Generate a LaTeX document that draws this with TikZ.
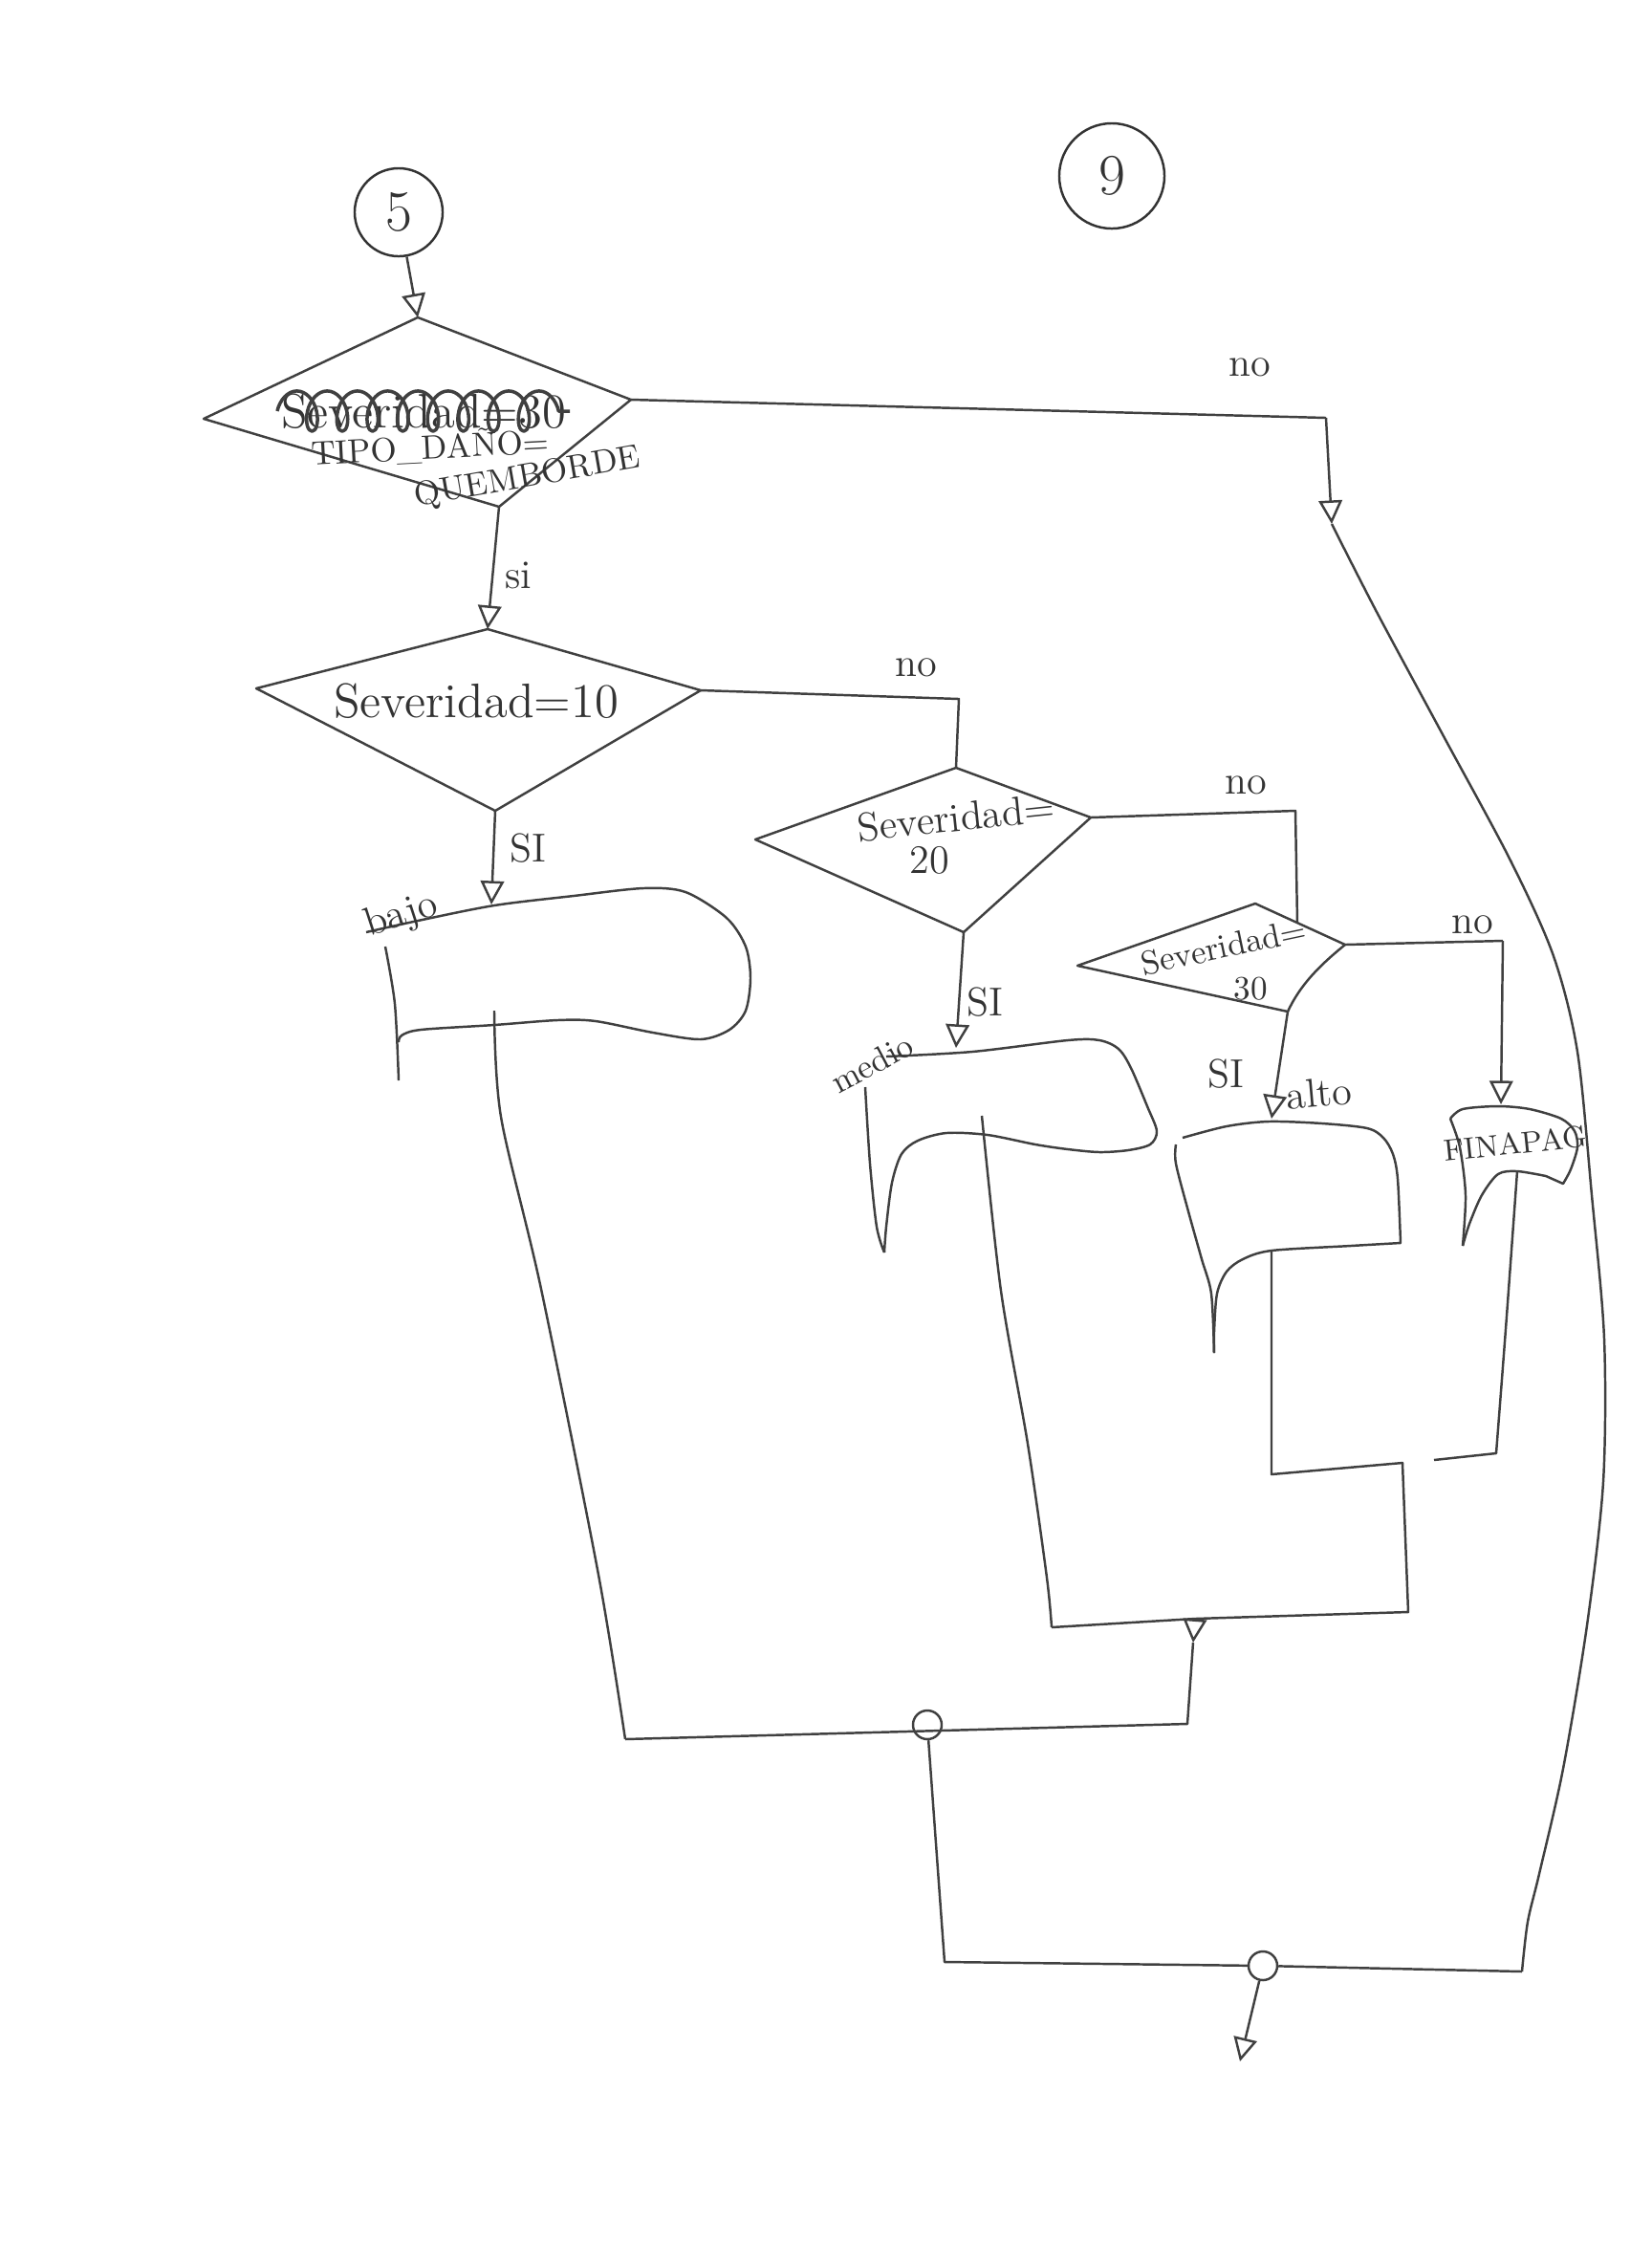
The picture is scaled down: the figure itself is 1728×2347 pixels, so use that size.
\documentclass[tikz,border=0pt]{standalone}
\usepackage{fontspec}
\usepackage{tikz}
\usetikzlibrary{arrows.meta}
\usetikzlibrary{decorations.pathmorphing}
\tikzset{
    pencil/.style={
        line width=0.7pt,
        black!75,
        line join=round
    },
    % flecha abierta dibujada a mano
    pencilarrow/.style={
        line width=0.7pt,
        black!75,
        ->,
        >={Triangle[open, length=7pt, width=7pt]}
    },
    handtext/.style={black!80, inner sep=1pt, font=\large}
}
\begin{document}
\begin{tikzpicture}[x=0.01cm, y=-0.01cm]
\useasboundingbox (0,0) rectangle (1728,2347);

% ===================== conectores de pagina =====================
\node[draw, pencil, circle, minimum size=0.92cm, handtext, font=\LARGE] (c5) at (417,222) {5};
\node[draw, pencil, circle, minimum size=1.1cm, handtext, font=\LARGE] (c9) at (1163,184) {9};

% ===================== rombos =====================
\path
 (437,332) coordinate (d1t)
 (213,438) coordinate (d1l)
 (660,418) coordinate (d1r)
 (522,530) coordinate (d1b)
 (510,658) coordinate (d2t)
 (268,720) coordinate (d2l)
 (733,722) coordinate (d2r)
 (518,848) coordinate (d2b)
 (1000,803) coordinate (d3t)
 (790,878) coordinate (d3l)
 (1141,855) coordinate (d3r)
 (1008,975) coordinate (d3b)
 (1313,945) coordinate (d4t)
 (1127,1010) coordinate (d4l)
 (1407,988) coordinate (d4r)
 (1347,1058) coordinate (d4b)
 (1357,965) coordinate (d4n)
 ;
\draw[pencil] (d1t) -- (d1r) -- (d1b) -- (d1l) -- cycle;
\draw[pencil] (d2t) -- (d2r) -- (d2b) -- (d2l) -- cycle;
\draw[pencil] (d3t) -- (d3r) -- (d3b) -- (d3l) -- cycle;
\draw[pencil] (d4l) -- (d4t) -- (d4r) .. controls (1380,1010) and (1360,1030) .. (d4b) -- cycle;

% textos de los rombos
\node[handtext, font=\Large] (t1a) at (443,430) {Severidad=30};
\draw[pencil, line width=1pt, decorate, decoration={coil, aspect=0.6, segment length=9pt, amplitude=6pt}]
 (t1a.west) -- (t1a.east);
\node[handtext, font=\normalsize, rotate=3] (t1b) at (450,468) {TIPO\_DAÑO=};
\node[handtext, font=\normalsize, rotate=10] (t1c) at (552,500) {QUEMBORDE};
\node[handtext, font=\Large] (t2) at (498,733) {Severidad=10};
\node[handtext, rotate=6] (t3a) at (1000,855) {Severidad=};
\node[handtext] (t3b) at (972,900) {20};
\node[handtext, font=\normalsize, rotate=12] (t4a) at (1280,990) {Severidad=};
\node[handtext, font=\normalsize] (t4b) at (1308,1034) {30};

% ===================== documentos =====================
\path
 (514,946) coordinate (a1)
 (517,1057) coordinate (a2)
 (1000,1096) coordinate (b1)
 (1027,1167) coordinate (b2)
 (1330,1170) coordinate (cc1)
 (1330,1308) coordinate (cc2)
 (1570,1155) coordinate (dd1)
 (1587,1225) coordinate (dd2)
 ;
% bajo
\draw[pencil] plot[smooth] coordinates {(383,975) (437,963) (517,947) (600,937) (673,929) (717,933)
 (760,960) (780,990) (785,1023) (780,1057) (763,1077) (733,1087) (683,1080) (623,1068) (583,1067)
 (517,1072) (440,1077) (420,1083) (417,1090)};
\draw[pencil] plot[smooth] coordinates {(403,990) (413,1050) (417,1130)};
% medio
\draw[pencil] plot[smooth] coordinates {(927,1105) (1017,1100) (1117,1088) (1150,1088) (1170,1097)
 (1183,1117) (1200,1157) (1210,1183) (1203,1197) (1180,1203) (1150,1205) (1117,1202) (1083,1197)
 (1033,1187) (990,1185) (960,1193) (943,1207) (933,1237) (927,1283) (925,1310)};
\draw[pencil] plot[smooth] coordinates {(905,1137) (910,1217) (917,1283) (925,1310)};
% alto
\draw[pencil] plot[smooth] coordinates {(1237,1190) (1283,1178) (1327,1173) (1383,1175) (1430,1180)
 (1447,1190) (1457,1207) (1462,1233) (1465,1300)}
 -- plot[smooth] coordinates {(1465,1300) (1413,1303) (1330,1308) (1300,1317) (1283,1330) (1273,1353)
 (1270,1393) (1270,1415)};
\draw[pencil] plot[smooth] coordinates {(1230,1197) (1230,1217) (1243,1267) (1257,1317) (1267,1353) (1270,1415)};
% fin
\draw[pencil] plot[smooth] coordinates {(1517,1170) (1530,1160) (1567,1157) (1600,1160) (1633,1170)
 (1647,1183) (1650,1200) (1643,1223) (1635,1238)}
 -- plot[smooth] coordinates {(1617,1230) (1587,1225) (1567,1228) (1550,1250) (1537,1280) (1530,1303)};
\draw[pencil] plot[smooth] coordinates {(1517,1170) (1527,1200) (1533,1250) (1530,1303)};
\node[handtext, font=\small, rotate=6] (tfin) at (1585,1196) {FINAPAG};

% etiquetas
\node[handtext, rotate=18] (lbajo) at (420,958) {bajo};
\node[handtext, font=\normalsize, rotate=28] (lmedio) at (912,1112) {medio};
\node[handtext, rotate=5] (lalto) at (1380,1143) {alto};

% ===================== flujo =====================
\path
 (1387,437) coordinate (k1)
 (1393,548) coordinate (n1)
 (1003,731) coordinate (k2)
 (1355,848) coordinate (k3)
 (1572,984) coordinate (k4)
 (1592,2062) coordinate (qr)
 ;
\draw[pencilarrow] (c5) -- (d1t);
\draw[pencilarrow] (d1b) -- (d2t);
\draw[pencilarrow] (d2b) -- (a1);
\draw[pencilarrow] (d3b) -- (b1);
\draw[pencilarrow] (d4b) -- (cc1);
\draw[pencil] (d1r) -- (k1);
\draw[pencilarrow] (k1) -- (n1);
\draw[pencil] (d2r) -- (k2) -- (d3t);
\draw[pencil] (d3r) -- (k3) -- (d4n);
\draw[pencil] (d4r) -- (k4);
\draw[pencilarrow] (k4) -- (dd1);
\draw[pencil] plot[smooth] coordinates {(n1) (1440,640) (1510,770) (1580,900) (1625,1000) (1650,1100)
 (1665,1250) (1678,1400) (1677,1550) (1660,1700) (1635,1850) (1610,1960) (1598,2010) (qr)};

\node[handtext] (no1) at (1307,384) {no};
\node[handtext] (si1) at (542,602) {si};
\node[handtext] (no2) at (958,698) {no};
\node[handtext] (si2) at (552,887) {SI};
\node[handtext] (no3) at (1303,821) {no};
\node[handtext] (si3) at (1030,1048) {SI};
\node[handtext] (no4) at (1540,967) {no};
\node[handtext] (si4) at (1282,1123) {SI};

% ===================== uniones =====================
\path
 (654,1819) coordinate (ab)
 (1100,1702) coordinate (mb)
 (1250,1693) coordinate (jm)
 (1248,1718) coordinate (jm2)
 (1473,1686) coordinate (mr)
 (1467,1530) coordinate (r1)
 (1330,1542) coordinate (cc3)
 (1565,1520) coordinate (dd3)
 (1500,1527) coordinate (dd4)
 (1242,1803) coordinate (mc)
 (988,2052) coordinate (cb)
 (1297,2156) coordinate (fin)
 ;
\draw[pencil] plot[smooth] coordinates {(a2) (524,1168) (566,1348) (626,1647) (ab)};
\draw[pencil] plot[smooth] coordinates {(b2) (1047,1350) (1075,1510) (1095,1650) (mb)};
\draw[pencil] (ab) -- (mc) -- (jm2);
\draw[pencil] (mb) -- (jm) -- (mr) -- (r1) -- (cc3) -- (cc2);
\draw[pencil] plot[smooth] coordinates {(dd2) (1575,1390) (dd3)} -- (dd4);
\draw[pencilarrow] (jm) -- (jm2);
\node[draw, pencil, circle, minimum size=0.3cm, inner sep=0pt] (cc) at (970,1804) {};
\node[draw, pencil, circle, minimum size=0.3cm, inner sep=0pt] (jb) at (1321,2056) {};
\draw[pencil] (cc) -- (cb) -- (jb) -- (qr);
\draw[pencilarrow] (jb) -- (fin);

\end{tikzpicture}
\end{document}
